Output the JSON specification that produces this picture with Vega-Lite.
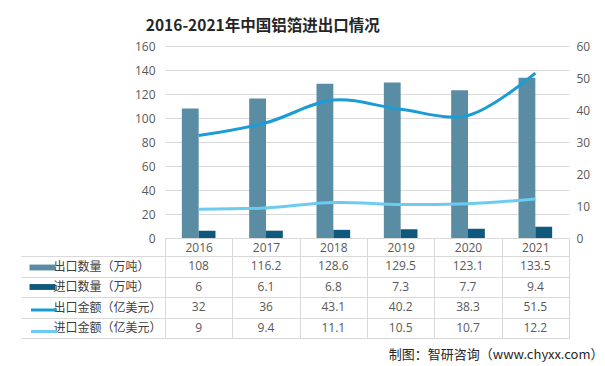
{
  "$schema": "https://vega.github.io/schema/vega-lite/v6.json",
  "padding": {"left": 20, "top": 18, "right": 0, "bottom": 5},
  "background": "white",
  "title": {"text": "2016-2021年中国铝箔进出口情况", "fontSize": 15.5, "font": "Noto Sans CJK SC", "fontWeight": "bold", "color": "#262626", "anchor": "middle", "dx": -104, "offset": 6},
  "datasets": {
    "t": [
      {"year": 2016, "series": "出口数量（万吨）", "value": 108},
      {"year": 2017, "series": "出口数量（万吨）", "value": 116.2},
      {"year": 2018, "series": "出口数量（万吨）", "value": 128.6},
      {"year": 2019, "series": "出口数量（万吨）", "value": 129.5},
      {"year": 2020, "series": "出口数量（万吨）", "value": 123.1},
      {"year": 2021, "series": "出口数量（万吨）", "value": 133.5},
      {"year": 2016, "series": "进口数量（万吨）", "value": 6},
      {"year": 2017, "series": "进口数量（万吨）", "value": 6.1},
      {"year": 2018, "series": "进口数量（万吨）", "value": 6.8},
      {"year": 2019, "series": "进口数量（万吨）", "value": 7.3},
      {"year": 2020, "series": "进口数量（万吨）", "value": 7.7},
      {"year": 2021, "series": "进口数量（万吨）", "value": 9.4},
      {"year": 2016, "series": "出口金额（亿美元）", "value": 32},
      {"year": 2017, "series": "出口金额（亿美元）", "value": 36},
      {"year": 2018, "series": "出口金额（亿美元）", "value": 43.1},
      {"year": 2019, "series": "出口金额（亿美元）", "value": 40.2},
      {"year": 2020, "series": "出口金额（亿美元）", "value": 38.3},
      {"year": 2021, "series": "出口金额（亿美元）", "value": 51.5},
      {"year": 2016, "series": "进口金额（亿美元）", "value": 9},
      {"year": 2017, "series": "进口金额（亿美元）", "value": 9.4},
      {"year": 2018, "series": "进口金额（亿美元）", "value": 11.1},
      {"year": 2019, "series": "进口金额（亿美元）", "value": 10.5},
      {"year": 2020, "series": "进口金额（亿美元）", "value": 10.7},
      {"year": 2021, "series": "进口金额（亿美元）", "value": 12.2}
    ]
  },
  "data": {"name": "t"},
  "spacing": 18,
  "bounds": "flush",
  "config": {"font": "Noto Sans CJK SC", "view": {"stroke": null}},
  "vconcat": [
    {
      "width": 404,
      "height": 192,
      "layer": [
        {
          "transform": [{"filter": {"field": "series", "oneOf": ["出口数量（万吨）", "进口数量（万吨）"]}}],
          "mark": {"type": "bar"},
          "encoding": {
            "x": {"field": "year", "type": "ordinal", "scale": {"paddingInner": 0, "paddingOuter": 0},
              "axis": {"title": null, "labelAngle": 0, "domainColor": "#d9d9d9", "tickColor": "#d9d9d9", "tickBand": "extent", "tickSize": 18, "labelBaseline": "middle", "labelPadding": -9, "labelFontSize": 12, "labelFont": "Open Sans", "labelColor": "#595959", "grid": false}},
            "xOffset": {"field": "series", "type": "nominal", "scale": {"domain": ["出口数量（万吨）", "进口数量（万吨）"], "paddingInner": 0, "paddingOuter": 1.04}},
            "y": {"field": "value", "type": "quantitative", "scale": {"domain": [0, 160]},
              "axis": {"title": null, "values": [0, 20, 40, 60, 80, 100, 120, 140, 160], "domain": false, "ticks": false, "labelPadding": 10, "gridColor": "#d9d9d9", "labelFontSize": 12, "labelFont": "Open Sans", "labelColor": "#595959"}},
            "color": {"field": "series", "type": "nominal",
              "scale": {"domain": ["出口数量（万吨）", "进口数量（万吨）"], "range": ["#5a8ca4", "#0f5a7c"]},
              "legend": {"orient": "none", "legendX": -129, "legendY": 215, "title": null, "labelExpr": "''", "symbolType": "M-2,-0.45H2V0.45H-2Z", "symbolSize": 169, "symbolStrokeWidth": 0, "rowPadding": 7.5, "padding": 0}}
          }
        },
        {
          "transform": [{"filter": {"field": "series", "oneOf": ["出口金额（亿美元）", "进口金额（亿美元）"]}}],
          "mark": {"type": "line", "strokeWidth": 3, "interpolate": "catmull-rom"},
          "encoding": {
            "x": {"field": "year", "type": "ordinal"},
            "y": {"field": "value", "type": "quantitative", "scale": {"domain": [0, 60]},
              "axis": {"orient": "right", "title": null, "values": [0, 10, 20, 30, 40, 50, 60], "grid": false, "domain": false, "ticks": false, "labelPadding": 7, "labelFontSize": 12, "labelFont": "Open Sans", "labelColor": "#595959"}},
            "stroke": {"field": "series", "type": "nominal",
              "scale": {"domain": ["出口金额（亿美元）", "进口金额（亿美元）"], "range": ["#1a9cd6", "#6ccbef"]},
              "legend": {"orient": "none", "legendX": -129, "legendY": 256, "title": null, "labelExpr": "''", "symbolType": "M-2,0H2", "symbolSize": 169, "symbolStrokeWidth": 3, "rowPadding": 7.5, "padding": 0}}
          }
        }
      ],
      "resolve": {"scale": {"y": "independent"}}
    },
    {
      "width": 404,
      "height": 82,
      "layer": [
        {
          "mark": {"type": "text", "fontSize": 12, "color": "#595959", "font": "Open Sans"},
          "encoding": {
            "x": {"field": "year", "type": "ordinal", "scale": {"paddingInner": 0, "paddingOuter": 0},
              "axis": {"labels": false, "ticks": false, "domain": false, "grid": true, "tickBand": "extent", "gridColor": "#d9d9d9",
                "title": "制图：智研咨询（www.chyxx.com）", "titleAnchor": "end", "titleAlign": "right", "titleX": 438, "titleY": 20, "titleBaseline": "alphabetic", "titleFontSize": 13, "titleFontWeight": "normal", "titleColor": "#262626", "titleFont": "Noto Sans CJK SC"}},
            "y": {"field": "series", "type": "nominal", "sort": ["出口数量（万吨）", "进口数量（万吨）", "出口金额（亿美元）", "进口金额（亿美元）"],
              "scale": {"paddingInner": 0, "paddingOuter": 0},
              "axis": {"title": null, "domain": false, "ticks": true, "tickBand": "extent", "tickSize": 144, "tickColor": "#d9d9d9", "grid": true, "gridColor": "#d9d9d9", "labelAlign": "left", "labelPadding": -32, "labelFontSize": 12, "labelColor": "#404040", "labelFont": "Noto Sans CJK SC"}},
            "text": {"field": "value", "type": "quantitative"}
          }
        },
        {
          "mark": {"type": "text", "opacity": 0},
          "encoding": {
            "y": {"field": "series", "type": "nominal", "sort": ["出口数量（万吨）", "进口数量（万吨）", "出口金额（亿美元）", "进口金额（亿美元）"],
              "axis": {"title": null, "offset": 144, "labels": false, "ticks": false, "grid": false, "domain": true, "domainColor": "#d9d9d9"}},
            "text": {"field": "value", "type": "quantitative"}
          }
        }
      ],
      "resolve": {"axis": {"y": "independent"}}
    }
  ]
}
